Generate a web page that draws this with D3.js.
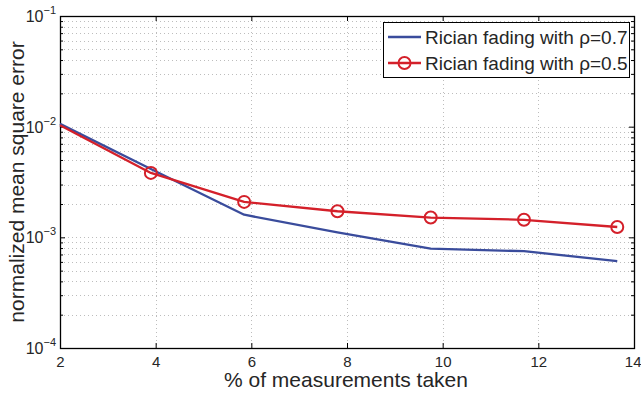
<!DOCTYPE html>
<html>
<head>
<meta charset="utf-8">
<script src="https://cdn.jsdelivr.net/npm/d3@7/dist/d3.min.js"></script>
<style>
  html, body { margin: 0; padding: 0; background: #fff; }
  svg { display: block; }
  text { font-family: "Liberation Sans", Arial, Helvetica, sans-serif; fill: #262626; }
</style>
</head>
<body>
<svg id="chart" width="641" height="393"></svg>
<script>
// Percentage of measurements taken (x positions of the samples)
const measurements = [2, 3.9, 5.85, 7.8, 9.75, 11.7, 13.65];
// Normalized MSE, Rician fading with rho = 0.7
const mseRho07 = [0.0106, 0.00415, 0.00160, 0.00111, 0.00079, 0.00075, 0.00061];
// Normalized MSE, Rician fading with rho = 0.5
const mseRho05 = [0.0103, 0.00382, 0.00209, 0.00172, 0.00151, 0.00144, 0.00124];
const seriesNames = ["Rician fading with \u03C1=0.7", "Rician fading with \u03C1=0.5"];
const xTicks = [2, 4, 6, 8, 10, 12, 14];
const yDecades = [-4, -3, -2, -1];

const colors = ["#3a4c9c", "#d4202a"];

const svg = d3.select("#chart");
const m = { left: 60, right: 634, top: 16, bottom: 348 };

const x = d3.scaleLinear().domain([2, 14]).range([m.left, m.right]);
const y = d3.scaleLog().domain([1e-4, 1e-1]).range([m.bottom, m.top]);

// minor log ticks (2..9 in each decade)
const minor = [];
for (let d = -4; d < -1; d++) {
  for (let k = 2; k <= 9; k++) minor.push(k * Math.pow(10, d));
}
const decadeVals = yDecades.map(d => Math.pow(10, d));

// dotted grid
const grid = svg.append("g").attr("stroke", "#bdbdbd").attr("stroke-width", 1)
  .attr("stroke-dasharray", "1,3").attr("fill", "none");
xTicks.slice(1, -1).forEach(t => {
  grid.append("line").attr("x1", Math.round(x(t)) + 0.5).attr("x2", Math.round(x(t)) + 0.5)
    .attr("y1", m.top).attr("y2", m.bottom);
});
minor.concat(decadeVals.slice(1, -1)).forEach(v => {
  grid.append("line").attr("x1", m.left).attr("x2", m.right)
    .attr("y1", Math.round(y(v)) + 0.5).attr("y2", Math.round(y(v)) + 0.5);
});

// axes with inward ticks on all four sides
const axB = d3.axisBottom(x).tickValues(xTicks).tickSize(-5).tickPadding(8).tickFormat(d3.format("d"));
const axT = d3.axisTop(x).tickValues(xTicks).tickSize(-5).tickFormat("");
const axL = d3.axisLeft(y).tickValues(decadeVals).tickSize(-5).tickFormat("");
const axR = d3.axisRight(y).tickValues(decadeVals).tickSize(-5).tickFormat("");
const axLm = d3.axisLeft(y).tickValues(minor).tickSize(-3).tickFormat("");
const axRm = d3.axisRight(y).tickValues(minor).tickSize(-3).tickFormat("");

function styleAxis(g) {
  g.select(".domain").remove();
  g.selectAll(".tick line").attr("stroke", "#000").attr("stroke-width", 1);
  g.selectAll(".tick text").style("font-size", "15px").attr("fill", "#262626");
}
const bottomAxis = svg.append("g").attr("transform", `translate(0,${m.bottom})`).call(axB).call(styleAxis);
// keep the last label inside the canvas edge
bottomAxis.selectAll(".tick text").filter(d => d === 14).attr("text-anchor", "end").attr("x", 7);
svg.append("g").attr("transform", `translate(0,${m.top})`).call(axT).call(styleAxis);
svg.append("g").attr("transform", `translate(${m.left},0)`).call(axL).call(styleAxis);
svg.append("g").attr("transform", `translate(${m.right},0)`).call(axR).call(styleAxis);
svg.append("g").attr("transform", `translate(${m.left},0)`).call(axLm).call(styleAxis);
svg.append("g").attr("transform", `translate(${m.right},0)`).call(axRm).call(styleAxis);

// y tick labels as 10^n
yDecades.forEach(d => {
  const t = svg.append("text").attr("x", m.left - 4).attr("y", y(Math.pow(10, d)) + 6)
    .attr("text-anchor", "end").style("font-size", "16px");
  t.append("tspan").text("10");
  t.append("tspan").attr("dy", -8).style("font-size", "11px").text("\u2212" + Math.abs(d));
});

// box
svg.append("rect").attr("x", m.left + 0.5).attr("y", m.top + 0.5)
  .attr("width", m.right - m.left).attr("height", m.bottom - m.top)
  .attr("fill", "none").attr("stroke", "#000").attr("stroke-width", 1.3);

// series
const line = d3.line().x((d, i) => x(measurements[i])).y(d => y(d));
const seriesData = [mseRho07, mseRho05];
seriesData.forEach((s, k) => {
  svg.append("path").datum(s).attr("d", line).attr("fill", "none")
    .attr("stroke", colors[k]).attr("stroke-width", 2.3).attr("stroke-linejoin", "round");
});
// circle markers on the rho=0.5 series
svg.append("g").selectAll("circle")
  .data(mseRho05.map((v, i) => [measurements[i], v]).filter(p => p[0] > 2))
  .join("circle")
  .attr("cx", d => x(d[0])).attr("cy", d => y(d[1])).attr("r", 6)
  .attr("fill", "none").attr("stroke", colors[1]).attr("stroke-width", 2);

// legend
const lg = svg.append("g");
lg.append("rect").attr("x", 383.5).attr("y", 22.5).attr("width", 246).attr("height", 55)
  .attr("fill", "#fff").attr("stroke", "#000").attr("stroke-width", 1);
seriesNames.forEach((name, k) => {
  const yy = 37 + k * 26;
  lg.append("line").attr("x1", 388).attr("x2", 421).attr("y1", yy).attr("y2", yy)
    .attr("stroke", colors[k]).attr("stroke-width", 2.3);
  if (k === 1) {
    lg.append("circle").attr("cx", 404.5).attr("cy", yy).attr("r", 6)
      .attr("fill", "none").attr("stroke", colors[k]).attr("stroke-width", 2);
  }
  lg.append("text").attr("x", 425).attr("y", yy + 7).style("font-size", "19px").text(name);
});

// axis titles
svg.append("text").attr("x", 346).attr("y", 387)
  .attr("text-anchor", "middle").style("font-size", "21px").text("% of measurements taken");
svg.append("text").attr("transform", `translate(24,${(m.top + m.bottom) / 2}) rotate(-90)`)
  .attr("text-anchor", "middle").style("font-size", "21px").text("normalized mean square error");
</script>
</body>
</html>
